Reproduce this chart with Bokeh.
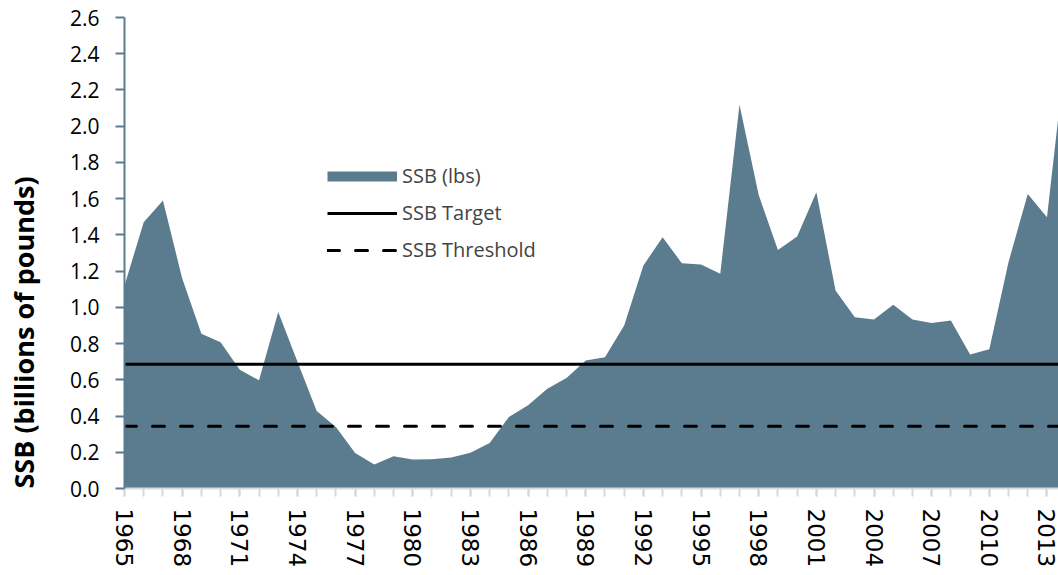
import math
import numpy as np
from bokeh.plotting import figure
from bokeh.models import (Range1d, FixedTicker, PrintfTickFormatter, Legend,
                          LegendItem, Title, LinearAxis)
from bokeh.embed import file_html
from bokeh.resources import INLINE

# ---- data ----
years = list(range(1965, 2015))
ssb = [1.12, 1.47, 1.59, 1.16, 0.854, 0.808, 0.656, 0.597, 0.974, 0.70,
       0.428, 0.34, 0.196, 0.132, 0.178, 0.160, 0.161, 0.171, 0.198, 0.251,
       0.395, 0.459, 0.551, 0.61, 0.707, 0.725, 0.90, 1.231, 1.387, 1.244,
       1.237, 1.185, 2.119, 1.62, 1.317, 1.391, 1.635, 1.093, 0.946, 0.933,
       1.014, 0.933, 0.913, 0.928, 0.740, 0.768, 1.25, 1.626, 1.497, 2.43]
ssb_target = 0.686
ssb_threshold = 0.343
label_years = list(range(1965, 2014, 3))
y_ticks = [0.0, 0.2, 0.4, 0.6, 0.8, 1.0, 1.2, 1.4, 1.6, 1.8, 2.0, 2.2, 2.4, 2.6]

target_series = [ssb_target] * len(years)
threshold_series = [ssb_threshold] * len(years)

FILL = "#5b7c8e"

p = figure(width=1058, height=575, output_backend="svg", toolbar_location=None,
           x_range=Range1d(1965, 2013.6), y_range=Range1d(0, 2.6),
           min_border_left=124, min_border_right=0, min_border_top=17,
           min_border_bottom=87)
p.outline_line_color = None
p.grid.visible = False
p.background_fill_color = "white"
p.border_fill_color = "white"

area = p.varea(x=years, y1=0, y2=ssb, fill_color=FILL)
tline = p.line(years, target_series, line_color="black", line_width=3)
hline = p.line(years, threshold_series, line_color="black", line_width=3,
               line_dash="12 16", line_cap="round")
# legend swatch for the area series (thick band), no visible data
band = p.line(x=np.array([float(years[0])]), y=np.array([np.nan]),
              line_color=FILL, line_width=10)

legend = Legend(items=[LegendItem(label="SSB (lbs)", renderers=[band]),
                       LegendItem(label="SSB Target", renderers=[tline]),
                       LegendItem(label="SSB Threshold", renderers=[hline])],
                location=(203, 225), glyph_width=70, glyph_height=26,
                label_height=26, spacing=10, padding=0, margin=0,
                border_line_color=None, background_fill_alpha=0,
                label_text_font="Open Sans", label_text_font_size="20px",
                label_standoff=5)
p.add_layout(legend)

xa = p.xaxis[0]
xa.ticker = FixedTicker(ticks=label_years, minor_ticks=years)
xa.axis_line_color = "#d9d9d9"
xa.axis_line_width = 2
xa.major_tick_line_color = "#d9d9d9"
xa.major_tick_line_width = 2
xa.minor_tick_line_color = "#d9d9d9"
xa.minor_tick_line_width = 2
xa.major_tick_in = 0
xa.major_tick_out = 8
xa.minor_tick_in = 0
xa.minor_tick_out = 8
xa.major_label_orientation = -math.pi / 2
xa.major_label_text_font = "DejaVu Sans"
xa.major_label_text_font_size = "23px"
xa.major_label_text_color = "black"
xa.major_label_standoff = 12

ya = p.yaxis[0]
ya.ticker = FixedTicker(ticks=y_ticks)
ya.formatter = PrintfTickFormatter(format="%.1f")
ya.axis_line_color = FILL
ya.axis_line_width = 2
ya.major_tick_line_color = FILL
ya.major_tick_line_width = 2
ya.major_tick_in = 0
ya.major_tick_out = 9
ya.minor_tick_line_color = None
ya.major_label_text_font = "Open Sans"
ya.major_label_text_font_size = "21px"
ya.major_label_text_color = "black"
ya.major_label_standoff = 16

# blank spacer between the tick labels and the axis title (white on white)
spacer = LinearAxis(ticker=FixedTicker(ticks=[2.5]), axis_line_color=None,
                    major_tick_line_color="white", minor_tick_line_color=None,
                    major_tick_in=0, major_tick_out=25, minor_tick_in=0,
                    minor_tick_out=0, major_label_standoff=0,
                    major_label_overrides={2.5: ""})
p.add_layout(spacer, "left")

ytitle = Title(text="SSB (billions of pounds)", align="left",
               text_font="Open Sans", text_font_style="bold",
               text_font_size="27px", text_color="black", standoff=0)
p.add_layout(ytitle, "left")

open("out.html", "w").write(file_html(p, INLINE))
